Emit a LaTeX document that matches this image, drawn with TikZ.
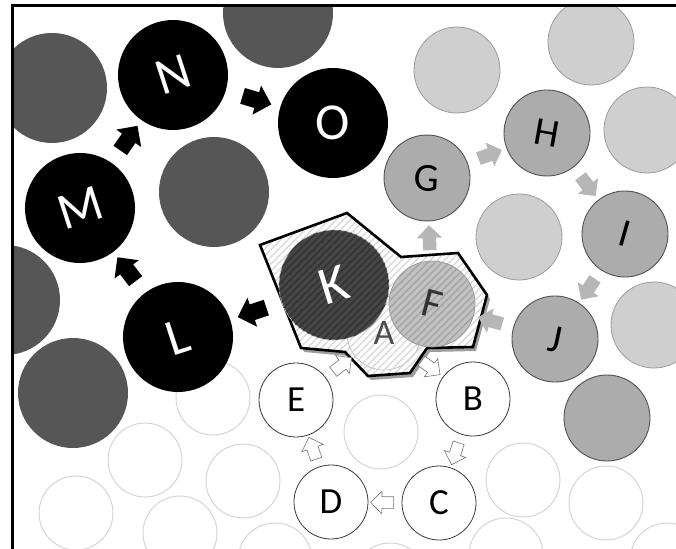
\documentclass[tikz,border=0pt]{standalone}
\usepackage{fontspec}
\setmainfont{Carlito}
\usetikzlibrary{arrows.meta, positioning, shapes.arrows, patterns.meta, shadows}
\definecolor{darkcol} {HTML}{565656}
\definecolor{midcol}  {HTML}{ACACAC}
\definecolor{midline} {HTML}{525252}
\definecolor{lightcol}{HTML}{CFCFCF}
\definecolor{lightln} {HTML}{9C9C9C}
\definecolor{ghostln} {HTML}{D4D4D4}
\definecolor{whiteln} {HTML}{3A3A3A}
\definecolor{kcol}    {HTML}{464646}
\definecolor{kline}   {HTML}{333333}
\definecolor{fcol}    {HTML}{C2C2C2}
\definecolor{fline}   {HTML}{A6A6A6}
\definecolor{hatchcol}{HTML}{DADADA}
\definecolor{grarrcol}{HTML}{B6B6B6}
\tikzset{
  blknode/.style={circle, fill=black, text=white, minimum size=110bp, inner sep=0pt, font=\fontsize{52}{52}\selectfont},
  dknode/.style={circle, fill=darkcol, minimum size=110bp, inner sep=0pt},
  grnode/.style={circle, draw=midline, line width=0.9bp, fill=midcol, minimum size=86bp, inner sep=0pt, font=\fontsize{40}{40}\selectfont},
  ltnode/.style={circle, draw=lightln, line width=0.8bp, fill=lightcol, minimum size=86bp, inner sep=0pt},
  whnode/.style={circle, draw=whiteln, line width=0.8bp, fill=white, minimum size=74bp, inner sep=0pt, font=\fontsize{37}{37}\selectfont},
  ghnode/.style={circle, draw=ghostln, line width=1bp, minimum size=74bp, inner sep=0pt},
  knode/.style={circle, draw=black!25, line width=0.6bp, fill=kcol, text=white, minimum size=110bp, inner sep=0pt, font=\fontsize{54}{54}\selectfont,
    postaction={pattern={Lines[angle=45, distance=5bp, line width=1.6bp]}, pattern color=kline}},
  fnode/.style={circle, draw=black!45, line width=0.6bp, fill=fcol, text=black!80, minimum size=86bp, inner sep=0pt, font=\fontsize{42}{42}\selectfont,
    postaction={pattern={Lines[angle=45, distance=5bp, line width=1.6bp]}, pattern color=fline}},
  anode/.style={circle, draw=black!30, line width=0.6bp, fill=white, text=black!70, minimum size=74bp, inner sep=0pt, font=\fontsize{36}{36}\selectfont,
    postaction={pattern={Lines[angle=45, distance=5bp, line width=1.4bp]}, pattern color=hatchcol}},
  grp/.style={fill=white,
    drop shadow={shadow xshift=3bp, shadow yshift=-4bp, fill=black!55, opacity=0.7},
    postaction={pattern={Lines[angle=45, distance=5bp, line width=1.4bp]}, pattern color=hatchcol},
    postaction={draw=black, line width=2.6bp, line join=miter}},
  blkarr/.style={single arrow, fill=black, minimum height=30bp, single arrow head extend=7bp, inner xsep=0pt, inner ysep=8bp, sloped, allow upside down},
  grarr/.style={single arrow, fill=grarrcol, minimum height=25bp, single arrow head extend=6bp, inner xsep=0pt, inner ysep=6.5bp, sloped, allow upside down},
  wharr/.style={single arrow, draw=black!55, line width=0.6bp, fill=white, minimum height=23bp, single arrow head extend=5.5bp, inner xsep=0pt, inner ysep=5.5bp, sloped, allow upside down},
}

\begin{document}
\begin{tikzpicture}[x=1bp, y=-1bp, >=Stealth]
  \useasboundingbox (0,0) rectangle (676,549);
  \begin{scope}
  \clip (12,6) rectangle (700,570);
  % ghost circles
  \node[ghnode] (g1)  at (213,398) {};
  \node[ghnode] (g2)  at (145,460) {};
  \node[ghnode] (g3)  at (243,481) {};
  \node[ghnode] (g4)  at (76,513)  {};
  \node[ghnode] (g5)  at (180,533) {};
  \node[ghnode] (g6)  at (275,560) {};
  \node[ghnode] (g7)  at (381,432) {};
  \node[ghnode] (g8)  at (523,480) {};
  \node[ghnode] (g9)  at (606,503) {};
  \node[ghnode] (g10) at (506,555) {};
  \node[ghnode] (g11) at (667,560) {};
  \node[ghnode] (g12) at (390,580) {};
  % dark circles
  \node[dknode] (d1) at (52,88)   {};
  \node[dknode] (d2) at (278,13)  {};
  \node[dknode] (d3) at (214,192) {};
  \node[dknode] (d4) at (5,300)   {};
  \node[dknode] (d5) at (73,393)  {};
  % light circles
  \node[ltnode] (l1) at (457,70)  {};
  \node[ltnode] (l2) at (591,42)  {};
  \node[ltnode] (l3) at (647,130) {};
  \node[ltnode] (l4) at (519,237) {};
  \node[ltnode] (l5) at (654,325) {};
  % black chain
  \node[blknode, rotate=18] (N) at (173,75)  {N};
  \node[blknode, rotate=18] (M) at (80,208)  {M};
  \node[blknode]            (O) at (333,123) {O};
  \node[blknode, rotate=18] (L) at (178,337) {L};
  % gray chain
  \node[grnode, rotate=-3]  (G) at (427,178) {G};
  \node[grnode, rotate=-10] (H) at (547,133) {H};
  \node[grnode, rotate=-16] (I) at (625,234) {I};
  \node[grnode, rotate=-12] (J) at (555,339) {J};
  \node[grnode]             (m5) at (607,418) {};
  % white chain
  \node[whnode] (E) at (296,400) {E};
  \node[whnode] (D) at (331,502) {D};
  \node[whnode] (C) at (439,503) {C};
  \node[whnode] (B) at (473,399) {B};
  % merged group
  \path[grp] (260,245) -- (347,213) -- (401,257) -- (458,253) -- (487,295) -- (473,347)
    -- (427,348) -- (410,373) -- (368,376) -- (345,352) -- (301,348) -- cycle;
  \node[anode] (A) at (384,333) {A};
  \node[knode, rotate=17]  (K) at (334,285) {K};
  \node[fnode, rotate=-15] (F) at (432,304) {F};
  % arrows
  \path (K) -- node[blkarr] {} (L);
  \path (L) -- node[blkarr] {} (M);
  \path (M) -- node[blkarr] {} (N);
  \path (N) -- node[blkarr] {} (O);
  \path (F) -- node[grarr] {} (G);
  \path (G) -- node[grarr] {} (H);
  \path (H) -- node[grarr] {} (I);
  \path (I) -- node[grarr] {} (J);
  \path (J) -- node[grarr] {} (F);
  \path (A) -- node[wharr] {} (B);
  \path (B) -- node[wharr] {} (C);
  \path (C) -- node[wharr] {} (D);
  \path (D) -- node[wharr] {} (E);
  \path (E) -- node[wharr] {} (A);
  \end{scope}
  % frame
  \draw[line width=3bp] (12,570) -- (12,6) -- (700,6);
\end{tikzpicture}
\end{document}
